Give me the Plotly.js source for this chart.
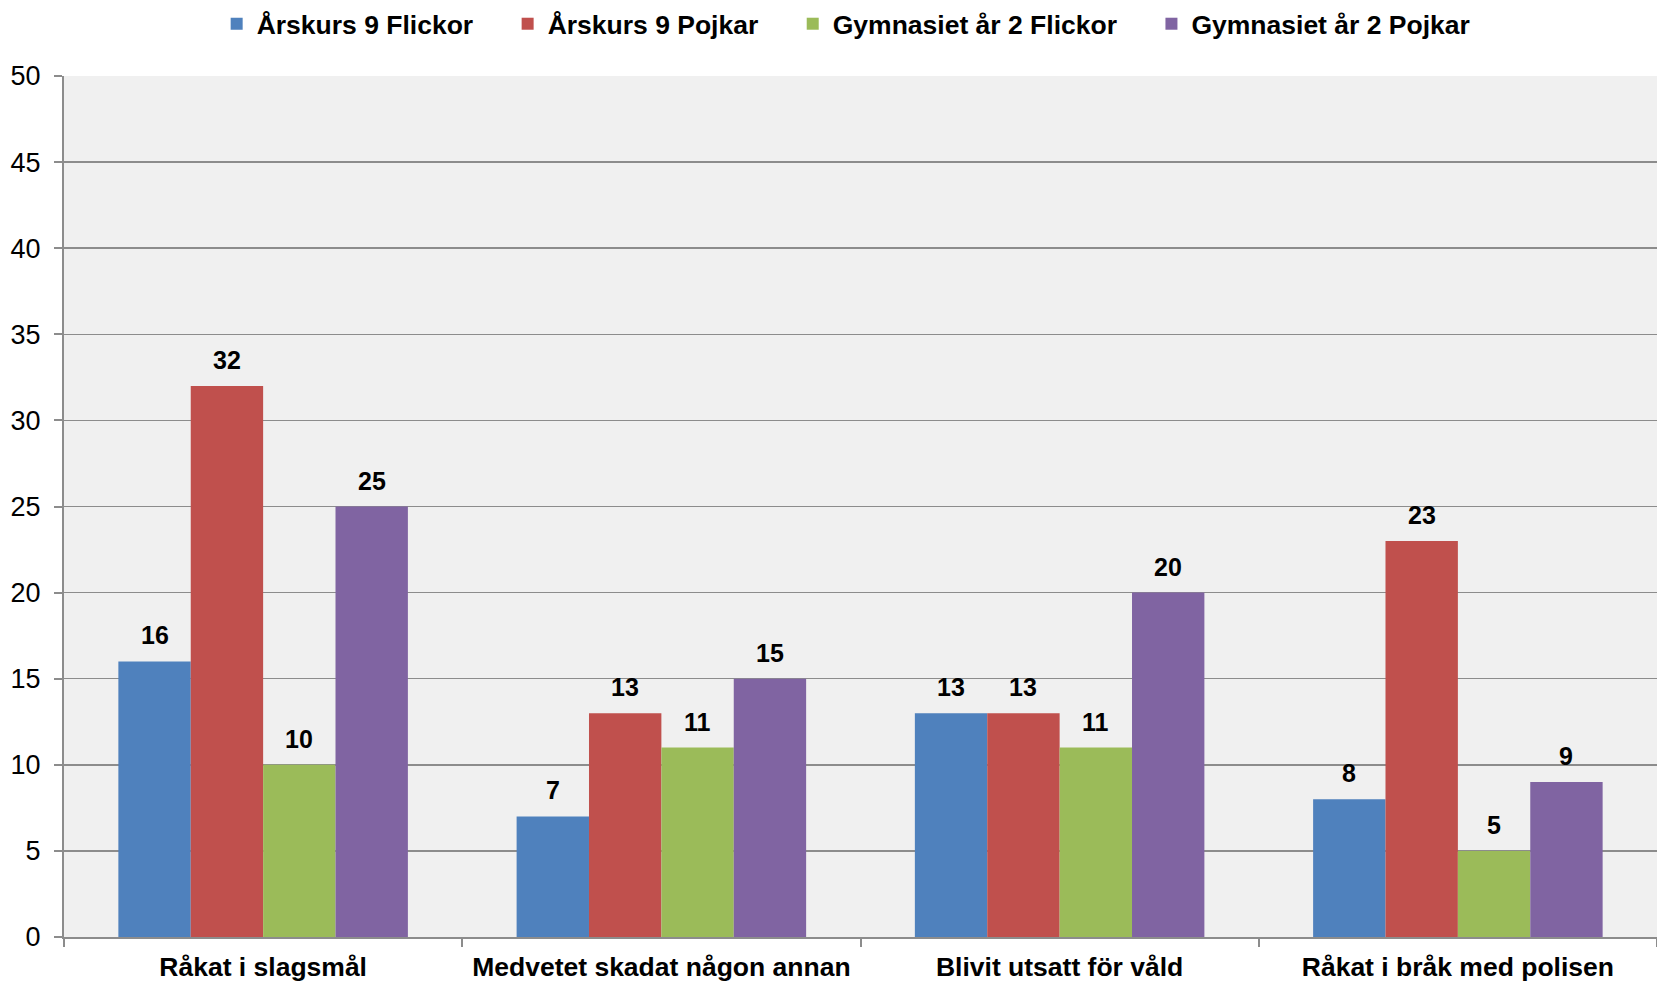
<!DOCTYPE html>
<html>
<head>
<meta charset="utf-8">
<script src="https://cdn.plot.ly/plotly-3.0.1.min.js"></script>
<style>html,body{margin:0;padding:0;background:#fff;}#chart{width:1657px;height:984px;}</style>
</head>
<body>
<div id="chart"></div>
<script>
const categories = ["Råkat i slagsmål", "Medvetet skadat någon annan", "Blivit utsatt för våld", "Råkat i bråk med polisen"];
const seriesNames = ["Årskurs 9 Flickor", "Årskurs 9 Pojkar", "Gymnasiet år 2 Flickor", "Gymnasiet år 2 Pojkar"];
const ak9Flickor = [16, 7, 13, 8];
const ak9Pojkar = [32, 13, 13, 23];
const gy2Flickor = [10, 11, 11, 5];
const gy2Pojkar = [25, 15, 20, 9];
const colors = ["#4F81BD", "#C0504D", "#9BBB59", "#8064A2"];
const yTicks = [0, 5, 10, 15, 20, 25, 30, 35, 40, 45, 50];

const seriesValues = [ak9Flickor, ak9Pojkar, gy2Flickor, gy2Pojkar];
const fontFam = "Liberation Sans, Arial, Helvetica, sans-serif";
const bargap = 0.273;
const barW = (1 - bargap) / seriesValues.length;
const legendPad = "\u00a0\u00a0\u00a0\u00a0";

const traces = seriesValues.map((vals, i) => ({
  type: "bar",
  name: seriesNames[i] + (i < seriesValues.length - 1 ? legendPad : ""),
  x: categories,
  y: vals,
  marker: {color: colors[i], line: {width: 0}},
  hoverinfo: "x+y"
}));

const annotations = [];
seriesValues.forEach((vals, i) => {
  vals.forEach((v, j) => {
    annotations.push({
      x: j + (i - (seriesValues.length - 1) / 2) * barW,
      y: v,
      xref: "x", yref: "y",
      text: String(v),
      showarrow: false,
      yanchor: "middle",
      yshift: 26,
      font: {family: fontFam, size: 25, color: "#000", weight: 700}
    });
  });
});

const layout = {
  width: 1657,
  height: 984,
  margin: {l: 64, r: 0, t: 75, b: 47, pad: 0},
  paper_bgcolor: "#FFFFFF",
  plot_bgcolor: "#F0F0F0",
  barmode: "group",
  bargap: bargap,
  bargroupgap: 0,
  font: {family: fontFam, color: "#000"},
  showlegend: true,
  legend: {
    orientation: "h",
    x: 0.491, xanchor: "center",
    y: 1.061, yanchor: "middle",
    font: {family: fontFam, size: 26.5, color: "#000", weight: 700},
    itemwidth: 30,
    bgcolor: "rgba(0,0,0,0)",
    traceorder: "normal"
  },
  xaxis: {
    type: "category",
    showline: true,
    linecolor: "#8C8C8C",
    linewidth: 2,
    ticks: "outside",
    tickson: "boundaries",
    ticklen: 8,
    tickwidth: 2,
    tickcolor: "#8C8C8C",
    showgrid: false,
    ticklabelstandoff: 5,
    tickfont: {family: fontFam, size: 26.5, color: "#000", weight: 700},
    fixedrange: true
  },
  yaxis: {
    range: [0, 50],
    tickvals: yTicks,
    ticktext: yTicks.map(String),
    showline: true,
    linecolor: "#8C8C8C",
    linewidth: 2,
    ticks: "outside",
    ticklen: 8,
    tickwidth: 2,
    tickcolor: "#8C8C8C",
    showgrid: true,
    gridcolor: "#8C8C8C",
    gridwidth: 1.5,
    zeroline: false,
    ticklabelstandoff: 8,
    tickfont: {family: fontFam, size: 27, color: "#000"},
    fixedrange: true
  },
  annotations: annotations
};

Plotly.newPlot("chart", traces, layout, {displayModeBar: false, staticPlot: true});
</script>
</body>
</html>
